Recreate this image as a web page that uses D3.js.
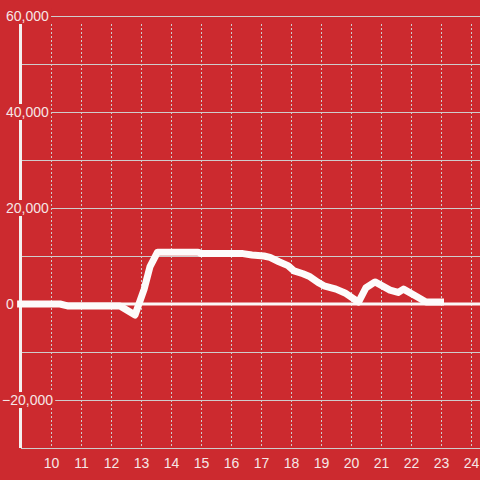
<!DOCTYPE html>
<html>
<head>
<meta charset="utf-8">
<script src="https://cdn.jsdelivr.net/npm/d3@7"></script>
<style>
  html, body { margin: 0; padding: 0; background: #cc2a2f; }
  svg { display: block; }
</style>
</head>
<body>
<svg id="chart" width="480" height="480"></svg>
<script>
// hour of day, value
const hours = [8.87, 10.3, 10.55, 12.3, 12.8, 13.1, 13.3, 13.55, 14.9, 15.0, 16.4, 16.7, 17.1, 17.3, 17.6, 17.9, 18.1, 18.4, 18.6, 18.9, 19.1, 19.5, 19.8, 20.25, 20.5, 20.8, 21.3, 21.57, 21.75, 22.2, 22.5, 23.1];
const values = [0, 0, -400, -400, -2300, 3000, 7800, 10800, 10800, 10500, 10500, 10200, 10000, 9700, 8800, 8000, 6900, 6300, 5800, 4500, 3800, 3100, 2300, 400, 3400, 4600, 2900, 2400, 3100, 1500, 400, 400];
const xTicks = [10, 11, 12, 13, 14, 15, 16, 17, 18, 19, 20, 21, 22, 23, 24];
const yGrid = [-30000, -20000, -10000, 0, 10000, 20000, 30000, 40000, 50000, 60000];
const yLabels = [-20000, 0, 20000, 40000, 60000];

const svg = d3.select('#chart');
const width = +svg.attr('width');
const height = +svg.attr('height');
const margin = { top: 16, right: 0, bottom: 32, left: 21 };
const bg = '#cc2a2f';
const gridColor = '#cfcccc';
const textColor = '#f6e6e6';

svg.append('rect').attr('width', width).attr('height', height).attr('fill', bg);

const x = d3.scaleLinear().domain([9, 24.3]).range([margin.left, width - margin.right]);
const y = d3.scaleLinear().domain([-30000, 60000]).range([height - margin.bottom, margin.top]);

// vertical dashed grid
svg.append('g')
    .selectAll('line')
    .data(xTicks)
    .join('line')
    .attr('x1', d => x(d) + 0.5).attr('x2', d => x(d) + 0.5)
    .attr('y1', y(60000) + 8).attr('y2', y(-30000))
    .attr('stroke', gridColor)
    .attr('stroke-width', 1)
    .attr('stroke-dasharray', '2,2');

// horizontal grid
svg.append('g')
    .selectAll('line')
    .data(yGrid.filter(d => d !== 0))
    .join('line')
    .attr('x1', margin.left).attr('x2', width)
    .attr('y1', d => y(d) + 0.5).attr('y2', d => y(d) + 0.5)
    .attr('stroke', gridColor)
    .attr('stroke-width', 1);

// y axis line
svg.append('line')
    .attr('x1', margin.left - 0.5).attr('x2', margin.left - 0.5)
    .attr('y1', y(60000)).attr('y2', y(-30000))
    .attr('stroke', '#f4f0f0')
    .attr('stroke-width', 3);

// zero line
svg.append('line')
    .attr('x1', margin.left - 2).attr('x2', width)
    .attr('y1', y(0)).attr('y2', y(0))
    .attr('stroke', '#fbf8f8')
    .attr('stroke-width', 3);

// y labels with background
const fmt = d3.format(',');
const yl = svg.append('g');
yLabels.forEach(v => {
    const g = yl.append('g');
    const t = g.append('text')
        .attr('x', v < 0 ? 2 : 6)
        .attr('y', y(v))
        .attr('dy', '0.36em')
        .attr('fill', textColor)
        .attr('font-family', 'Liberation Sans, Arial, sans-serif')
        .attr('font-size', 14)
        .text(fmt(v));
    const b = t.node().getBBox();
    g.insert('rect', 'text')
        .attr('x', b.x - 1).attr('y', y(v) - 8)
        .attr('width', b.width + 3).attr('height', 16)
        .attr('fill', bg);
});

// x axis
const xAxis = d3.axisBottom(x).tickValues(xTicks).tickSize(0).tickPadding(10);
const gx = svg.append('g')
    .attr('transform', `translate(0,${height - margin.bottom})`)
    .call(xAxis);
gx.select('.domain').attr('stroke', gridColor).attr('d', `M${margin.left},0.5H${width}`);
gx.selectAll('text')
    .attr('fill', textColor)
    .attr('font-family', 'Liberation Sans, Arial, sans-serif')
    .attr('font-size', 14);

// data line
const data = hours.map((h, i) => ({ x: h, y: values[i] }));
const line = d3.line()
    .x(d => x(d.x))
    .y(d => y(d.y));

svg.append('path')
    .datum(data)
    .attr('fill', 'none')
    .attr('stroke', '#fdfbfb')
    .attr('stroke-width', 7)
    .attr('stroke-linejoin', 'round')
    .attr('stroke-linecap', 'butt')
    .attr('d', line);
</script>
</body>
</html>
